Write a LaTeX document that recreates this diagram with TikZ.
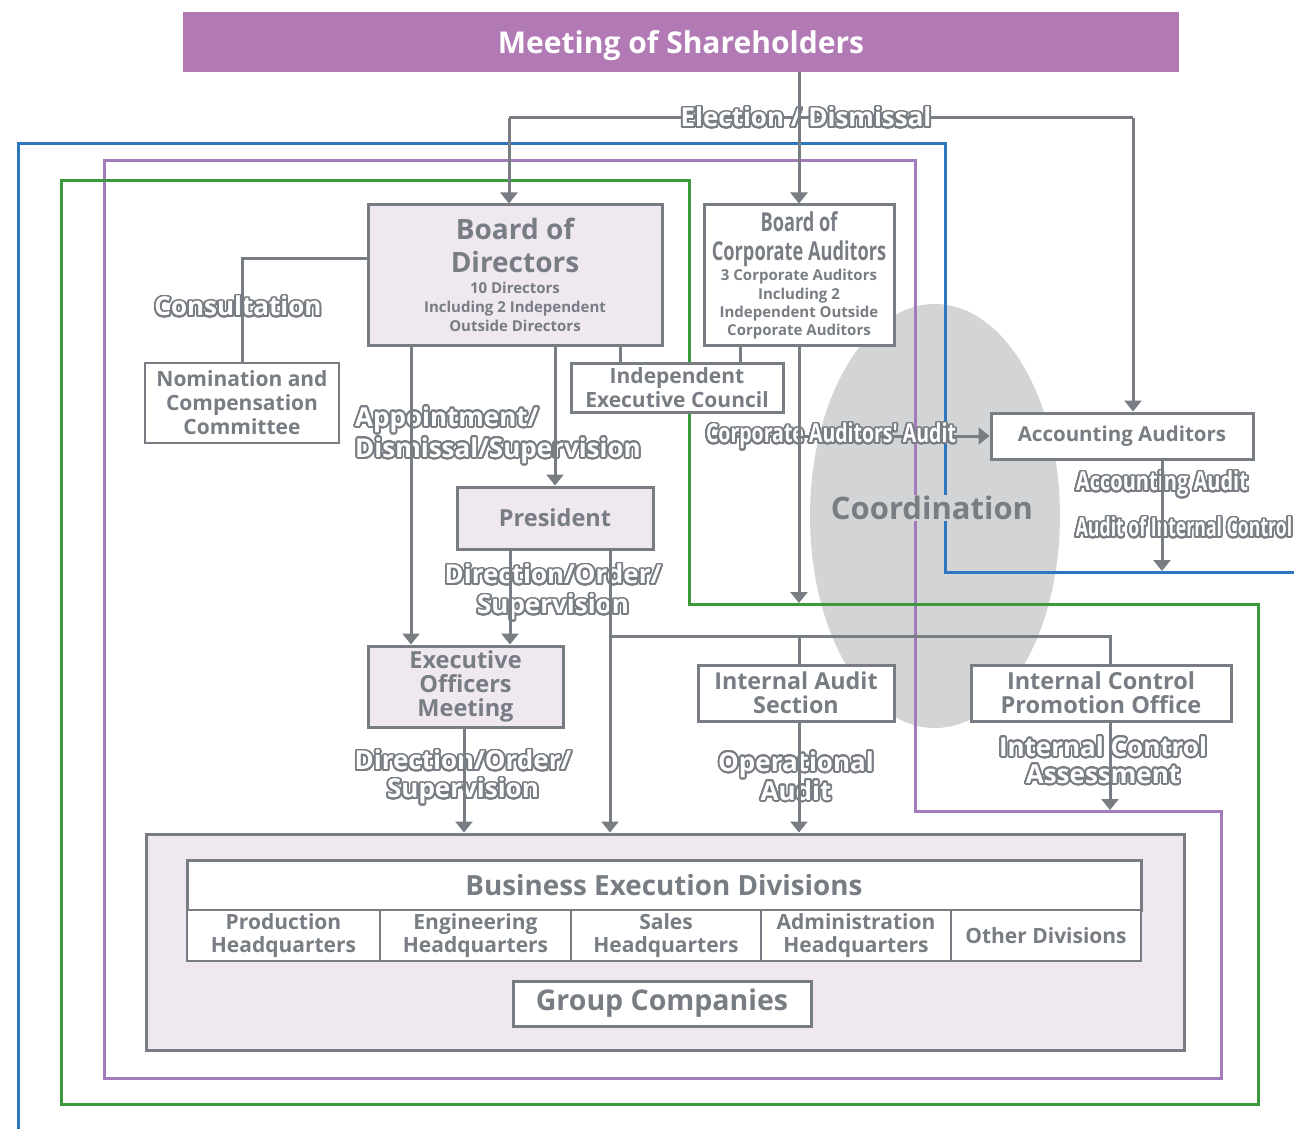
\documentclass[tikz,border=0pt]{standalone}
\usepackage{fontspec}
\setmainfont{Open Sans}
\newfontfamily\condA[FakeStretch=0.75]{Open Sans}
\newfontfamily\condB[FakeStretch=0.77]{Open Sans}
\newfontfamily\condC[FakeStretch=0.68]{Open Sans}
\newfontfamily\titlecond[FakeStretch=0.7]{Open Sans}
\usepackage{contour}
\contourlength{1.8pt}
\contournumber{32}
\usetikzlibrary{arrows.meta,shapes.geometric}
\definecolor{lgrey}{HTML}{787D83}
\definecolor{barpurple}{HTML}{B27AB5}
\definecolor{lav}{HTML}{EFE8F1}
\definecolor{ellgrey}{HTML}{D3D4D6}
\definecolor{fblue}{HTML}{2F76C1}
\definecolor{fpurple}{HTML}{A27BBA}
\definecolor{fgreen}{HTML}{3C9A3C}
\newcommand{\olab}[1]{\textcolor{white}{\contour{lgrey}{#1}}}
\begin{document}
\begin{tikzpicture}[x=1pt,y=-1pt,
  conn/.style={draw=lgrey,line width=3pt},
  arr/.style={conn,-{Triangle[width=17pt,length=11pt]}},
  box/.style={draw=lgrey,line width=3pt,text=lgrey,align=center,inner sep=0pt,fill=white},
  lbox/.style={box,fill=lav},
  txt/.style={text=lgrey,align=center,inner sep=0pt},
  lab/.style={inner sep=0pt,align=center,font=\fontsize{26}{30}\selectfont\bfseries},
  frame/.style={line width=3pt}]
\useasboundingbox (0,0) rectangle (1294,1129);

% coordination ellipse
\node[ellipse,fill=ellgrey,minimum width=250pt,minimum height=424pt,inner sep=0pt] (ell) at (935,516) {};

% coloured frames
\draw[fblue,frame] (18,1129) -- (18,144) -- (945,144) -- (945,572) -- (1294,572);
\draw[fpurple,frame] (104,161) -- (915,161) -- (915,811) -- (1221,811) -- (1221,1078) -- (104,1078) -- cycle;
\draw[fgreen,frame] (61,181) -- (689,181) -- (689,604) -- (1258,604) -- (1258,1104) -- (61,1104) -- cycle;

\node[text=lgrey,fill=ellgrey,inner sep=1pt,font=\bfseries\fontsize{31}{35}\selectfont] (coordtxt) at (932,508) {Coordination};

% boxes
\node[fill=barpurple,text=white,minimum width=996pt,minimum height=60pt,inner sep=0pt,text depth=0pt,font=\bfseries\fontsize{30}{34}\selectfont] (msh) at (681,42) {Meeting of Shareholders};

\node[lbox,minimum width=294pt,minimum height=140pt] (bod) at (515,275) {};
\node[txt,font=\bfseries\fontsize{28}{33}\selectfont] (bodt) at (515,245.5) {Board of\\Directors};
\node[txt,font=\bfseries\fontsize{15}{19}\selectfont] (bods) at (515,307) {10 Directors\\Including 2 Independent\\Outside Directors};

\node[box,minimum width=190pt,minimum height=140pt] (boca) at (799,275) {};
\node[txt,font=\titlecond\bfseries\fontsize{26}{29}\selectfont] (bocat) at (799,239.5) {Board of\\Corporate Auditors};
\node[txt,font=\bfseries\fontsize{15}{18.3}\selectfont] (bocas) at (799,304.5) {3 Corporate Auditors\\Including 2\\Independent Outside\\Corporate Auditors};

\node[box,line width=1.5pt,minimum width=194pt,minimum height=80pt,font=\bfseries\fontsize{21}{24}\selectfont] (ncc) at (242,403) {Nomination and\\Compensation\\Committee};

\node[box,minimum width=212pt,minimum height=49pt,font=\bfseries\fontsize{21}{24}\selectfont] (iec) at (677,387.5) {Independent\\Executive Council};

\node[lbox,minimum width=196pt,minimum height=62pt,font=\bfseries\fontsize{23.5}{26}\selectfont] (pres) at (555,518) {President};

\node[lbox,minimum width=195pt,minimum height=81pt,font=\bfseries\fontsize{23.5}{24}\selectfont] (eom) at (465.5,686.5) {Executive\\Officers\\Meeting};

\node[box,minimum width=196pt,minimum height=56pt,font=\bfseries\fontsize{23.3}{24}\selectfont] (ias) at (796,693) {Internal Audit\\Section};

\node[box,minimum width=260pt,minimum height=56pt,font=\bfseries\fontsize{23.5}{24}\selectfont] (icpo) at (1101,693) {Internal Control\\Promotion Office};

\node[box,minimum width=262pt,minimum height=46pt,font=\bfseries\fontsize{20.5}{24}\selectfont] (aa) at (1122,436) {Accounting Auditors};

\node[lbox,minimum width=1038pt,minimum height=216pt] (bus) at (665,942) {};
\node[box,minimum width=954pt,minimum height=50pt,font=\bfseries\fontsize{27.8}{30}\selectfont] (bed) at (664,885) {Business Execution Divisions};
\tikzset{cell/.style={box,line width=2.5pt,minimum height=51pt,font=\bfseries\fontsize{21}{23}\selectfont}}
\node[cell,minimum width=193pt] (d1) at (283.5,935.5) {Production\\Headquarters};
\node[cell,minimum width=191pt] (d2) at (475.5,935.5) {Engineering\\Headquarters};
\node[cell,minimum width=190pt] (d3) at (666,935.5) {Sales\\Headquarters};
\node[cell,minimum width=190pt] (d4) at (856,935.5) {Administration\\Headquarters};
\node[cell,minimum width=190pt] (d5) at (1046,935.5) {Other Divisions};
\node[box,minimum width=298pt,minimum height=45pt,font=\bfseries\fontsize{28.5}{30}\selectfont] (gc) at (662,1003.5) {Group Companies};

% helper coordinates
\coordinate (elL) at (509,118);
\coordinate (elR) at (1133,118);
\coordinate (caaL) at (712,436);
\coordinate (cA) at (411,0);
\coordinate (cC) at (620,0);
\coordinate (cD) at (740,0);
\coordinate (cE) at (510,0);
\coordinate (cF) at (610,0);
\coordinate (cG) at (464,0);
\coordinate (cH) at (1162,0);
\coordinate (cI) at (1110,0);
\coordinate (cJ) at (799,0);
\coordinate (jn) at (610,636);
\coordinate (bocaend) at (799,603);
\coordinate (aaend) at (1162,571);
\coordinate (icend) at (1110,810);

% horizontal connectors that run beneath their labels
\draw[conn] (elL) -- (elR);
\draw[arr] (caaL) -- (aa.west);

% labels
\node[lab,font=\condA\fontsize{26}{30}\selectfont\bfseries] (caa) at (831,437) {\olab{Corporate Auditors' Audit}};
\node[lab] (elec) at (806,118) {\olab{Election / Dismissal}};
\node[lab] (cons) at (238,307) {\olab{Consultation}};
\node[lab,align=left,anchor=west,font=\fontsize{26}{31}\selectfont\bfseries] (appt) at (355,436) {\olab{Appointment/}\\\olab{Dismissal/Supervision}};
\node[lab] (dos1) at (553,593) {\olab{Direction/Order/}\\\olab{Supervision}};
\node[lab,font=\fontsize{26}{28}\selectfont\bfseries] (dos2) at (463,778) {\olab{Direction/Order/}\\\olab{Supervision}};
\node[lab,font=\fontsize{26}{27}\selectfont\bfseries] (opa) at (796,777) {\olab{Operational}\\\olab{Audit}};
\node[lab,font=\fontsize{26}{27}\selectfont\bfseries] (ica) at (1103,761) {\olab{Internal Control}\\\olab{Assessment}};
\node[lab,font=\condB\fontsize{26}{30}\selectfont\bfseries] (acca) at (1162,485) {\olab{Accounting Audit}};
\node[lab,font=\condC\fontsize{26}{30}\selectfont\bfseries] (aic) at (1184,528) {\olab{Audit of Internal Control}};

% vertical connectors, drawn over the labels
\draw[arr] (msh.south -| boca.north) -- (boca.north);
\draw[arr] (elL) -- (elL |- bod.north);
\draw[arr] (elR) -- (elR |- aa.north);
\draw[conn] ([yshift=17pt]bod.west) -| (ncc.north);
\draw[arr] (bod.south -| cA) -- (eom.north -| cA);
\draw[arr] (bod.south -| pres.north) -- (pres.north);
\draw[conn] (bod.south -| cC) -- (iec.north -| cC);
\draw[conn] (boca.south -| cD) -- (iec.north -| cD);
\draw[arr] (boca.south) -- (bocaend);
\draw[arr] (aa.south -| cH) -- (aaend);
\draw[arr] (pres.south -| cE) -- (eom.north -| cE);
\draw[arr] (pres.south -| cF) -- (bus.north -| cF);
\draw[conn] (jn) -| (icpo.north -| cI);
\draw[conn] (jn -| cJ) -- (ias.north -| cJ);
\draw[arr] (eom.south -| cG) -- (bus.north -| cG);
\draw[arr] (ias.south -| cJ) -- (bus.north -| cJ);
\draw[arr] (icpo.south -| cI) -- (icend);
\end{tikzpicture}
\end{document}
